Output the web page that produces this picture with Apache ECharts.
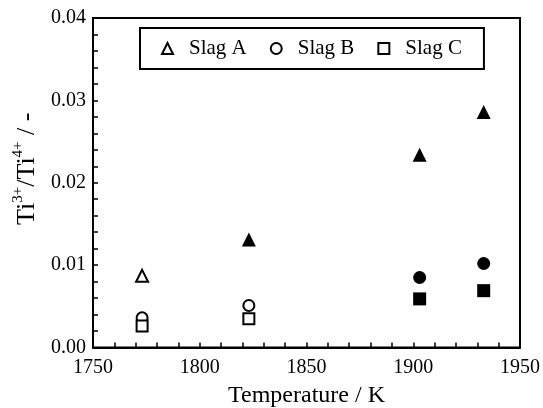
<!DOCTYPE html>
<html>
<head>
<meta charset="utf-8">
<script src="https://cdn.jsdelivr.net/npm/echarts@6/dist/echarts.min.js"></script>
<style>
html,body{margin:0;padding:0;background:#fff;}
#chart{width:543px;height:408px;}
</style>
</head>
<body>
<div id="chart"></div>
<script>
// ---- data ----
const temperatures = [1773, 1823, 1903, 1933];
const slagA = [0.0087, 0.0131, 0.0234, 0.0286];
const slagB = [0.0036, 0.0051, 0.0085, 0.0102];
const slagC = [0.0026, 0.0035, 0.0059, 0.0069];
const solidA = [false, true, true, true];
const solidB = [false, false, true, true];
const solidC = [false, false, true, true];
const xTicks = [1750, 1800, 1850, 1900, 1950];
const yTicks = [0.00, 0.01, 0.02, 0.03, 0.04];
const seriesNames = ['Slag A', 'Slag B', 'Slag C'];

const FONT = "'Liberation Serif', 'Times New Roman', serif";

function build(name, values, solid, symbol, openSize, solidSize) {
  return {
    name: name,
    type: 'scatter',
    symbol: symbol,
    symbolSize: openSize,
    itemStyle: { color: '#fff', borderColor: '#000', borderWidth: 2, opacity: 1 },
    emphasis: { disabled: true },
    data: values.map((v, i) => {
      const d = { value: [temperatures[i], v] };
      if (solid[i]) {
        d.symbolSize = solidSize;
        d.itemStyle = { color: '#000', borderWidth: 0 };
      }
      return d;
    })
  };
}

const chart = echarts.init(document.getElementById('chart'), null, { renderer: 'canvas' });
chart.setOption({
  animation: false,
  backgroundColor: '#fff',
  textStyle: { fontFamily: FONT, color: '#000' },
  grid: {
    left: 93, right: 23, top: 18, bottom: 60.5,
    containLabel: false,
    outerBoundsMode: 'none',
    show: true, borderColor: '#000', borderWidth: 2, backgroundColor: 'transparent'
  },
  legend: {
    data: seriesNames,
    left: 140, top: 28,
    orient: 'horizontal',
    borderColor: '#000', borderWidth: 2,
    padding: [10, 22, 10, 21],
    itemWidth: 11, itemHeight: 11,
    itemGap: 23,
    textStyle: { fontFamily: FONT, fontSize: 21, color: '#000', padding: [0, 0, 0, 11] },
    selectedMode: false
  },
  xAxis: {
    type: 'value',
    min: xTicks[0], max: xTicks[xTicks.length - 1], interval: 50,
    name: 'Temperature / K',
    nameLocation: 'middle',
    nameGap: 36,
    nameTextStyle: { fontFamily: FONT, fontSize: 24, color: '#000' },
    axisLine: { show: true, onZero: false, lineStyle: { color: '#000', width: 2 } },
    axisTick: { show: true, inside: true, length: 5, lineStyle: { color: '#000', width: 1.5 } },
    minorTick: { show: true, splitNumber: 5, length: 5, lineStyle: { color: '#000', width: 1.5 } },
    splitLine: { show: false },
    axisLabel: { fontFamily: FONT, fontSize: 20, color: '#000', margin: 10, formatter: v => String(v) }
  },
  yAxis: {
    type: 'value',
    min: yTicks[0], max: yTicks[yTicks.length - 1], interval: 0.01,
    name: '{a|Ti}{s|3+}{a|/Ti}{s|4+}{a| / -}',
    nameLocation: 'middle',
    nameGap: 46,
    nameTextStyle: {
      fontFamily: FONT, color: '#000',
      padding: [0, 0, 0, 28],
      rich: {
        a: { fontFamily: FONT, fontSize: 26, color: '#000', lineHeight: 30, verticalAlign: 'bottom' },
        s: { fontFamily: FONT, fontSize: 15, color: '#000', lineHeight: 30, verticalAlign: 'top' }
      }
    },
    axisLine: { show: true, onZero: false, lineStyle: { color: '#000', width: 2 } },
    axisTick: { show: true, inside: true, length: 5, lineStyle: { color: '#000', width: 1.5 } },
    minorTick: { show: true, splitNumber: 5, length: 5, lineStyle: { color: '#000', width: 1.5 } },
    splitLine: { show: false },
    axisLabel: { fontFamily: FONT, fontSize: 20, color: '#000', margin: 7, formatter: v => v.toFixed(2) }
  },
  series: [
    build(seriesNames[0], slagA, solidA, 'triangle', 12, 14),
    build(seriesNames[1], slagB, solidB, 'circle', 11, 13),
    build(seriesNames[2], slagC, solidC, 'rect', 11, 13)
  ]
});
</script>
</body>
</html>
